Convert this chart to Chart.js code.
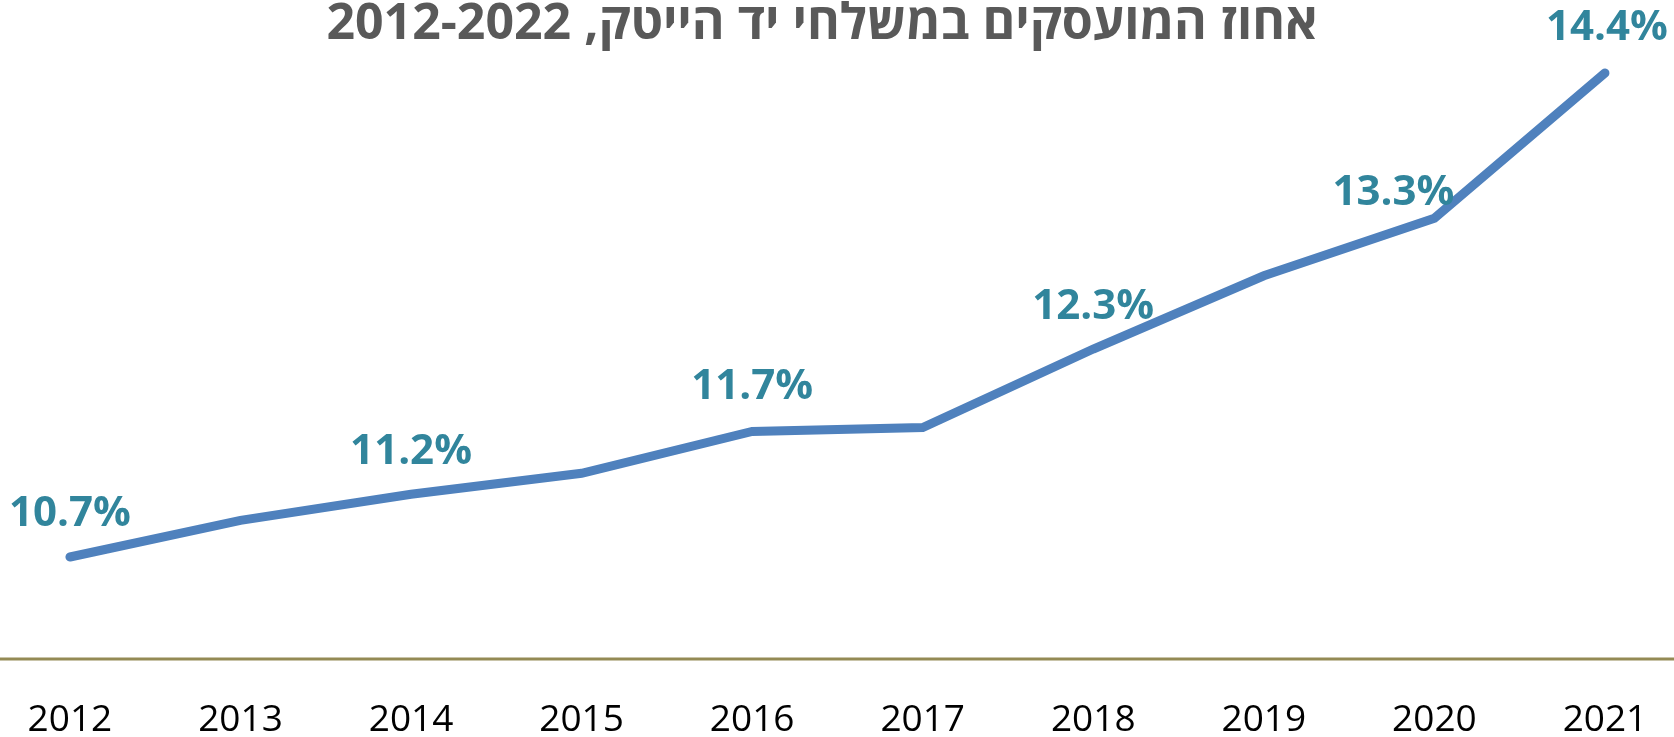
<!DOCTYPE html>
<html>
<head>
<meta charset="utf-8">
<script src="https://cdn.jsdelivr.net/npm/chart.js@4"></script>
<style>
    body { margin: 0; background: #fff; }
    #wrap { width: 1674px; height: 737px; }
</style>
</head>
<body>
<div id="wrap"><canvas id="grafik"></canvas></div>
<script>
// data
const years = [2012, 2013, 2014, 2015, 2016, 2017, 2018, 2019, 2020, 2021];
const hitechShare = [10.7, 10.98, 11.18, 11.34, 11.66, 11.69, 12.29, 12.85, 13.29, 14.4];
const showLabel = [true, false, true, false, true, false, true, false, true, true];
const chartTitle = 'אחוז המועסקים במשלחי יד הייטק, 2012-2022';

// label position tweaks (pixels)
const labelShiftX = [0, 0, 0, 0, 0, 0, 0, 0, -41, 2];
const labelShiftY = [-43, 0, -42, 0, -44, 0, -42, 0, -25, -45];

// draws the value labels above the line
const valueLabels = {
    id: 'valueLabels',
    afterDatasetsDraw(chart) {
        const ctx = chart.ctx;
        const meta = chart.getDatasetMeta(0);
        ctx.save();
        ctx.font = 'bold 42px "Open Sans"';
        ctx.fillStyle = '#31859C';
        ctx.textAlign = 'center';
        ctx.textBaseline = 'middle';
        meta.data.forEach((pt, i) => {
            if (!showLabel[i]) return;
            ctx.fillText(hitechShare[i].toFixed(1) + '%', pt.x + labelShiftX[i], pt.y + labelShiftY[i]);
        });
        ctx.restore();
    }
};

// axis line goes across the whole width
const axisLine = {
    id: 'axisLine',
    beforeDatasetsDraw(chart) {
        const ctx = chart.ctx;
        const y = chart.chartArea.bottom;
        ctx.save();
        ctx.strokeStyle = '#948A54';
        ctx.lineWidth = 3;
        ctx.beginPath();
        ctx.moveTo(0, y);
        ctx.lineTo(chart.width, y);
        ctx.stroke();
        ctx.restore();
    }
};

const ctx = document.getElementById('grafik').getContext('2d');
new Chart(ctx, {
    type: 'line',
    data: {
        datasets: [{
            data: years.map((y, i) => ({ x: y, y: hitechShare[i] })),
            borderColor: '#4F81BD',
            borderWidth: 9,
            borderCapStyle: 'round',
            pointRadius: 0,
            tension: 0,
            fill: false
        }]
    },
    options: {
        responsive: true,
        maintainAspectRatio: false,
        animation: false,
        layout: { padding: { left: 0, right: 30, top: 0, bottom: 0 } },
        plugins: {
            legend: { display: false },
            tooltip: { enabled: false },
            title: {
                display: true,
                text: '\u202B' + chartTitle + '\u202C',
                color: '#595959',
                font: { family: '"Open Sans"', size: 50, weight: 'bold', lineHeight: 1.0 },
                padding: { top: 0, bottom: 0 }
            }
        },
        scales: {
            x: {
                type: 'linear',
                min: 2011.59,
                max: 2021.229,
                grid: { display: false, drawTicks: false },
                border: { display: false },
                ticks: {
                    stepSize: 1,
                    includeBounds: false,
                    autoSkip: false,
                    maxRotation: 0,
                    color: '#000',
                    padding: 39,
                    font: { family: '"Open Sans"', size: 37 },
                    callback: v => String(v)
                },
                afterFit(scale) {
                    scale.height = 78;
                    scale.paddingLeft = 0;
                    scale.paddingRight = 0;
                }
            },
            y: {
                display: false,
                min: 9.92,
                max: 14.576
            }
        }
    },
    plugins: [valueLabels, axisLine]
});
</script>
</body>
</html>
